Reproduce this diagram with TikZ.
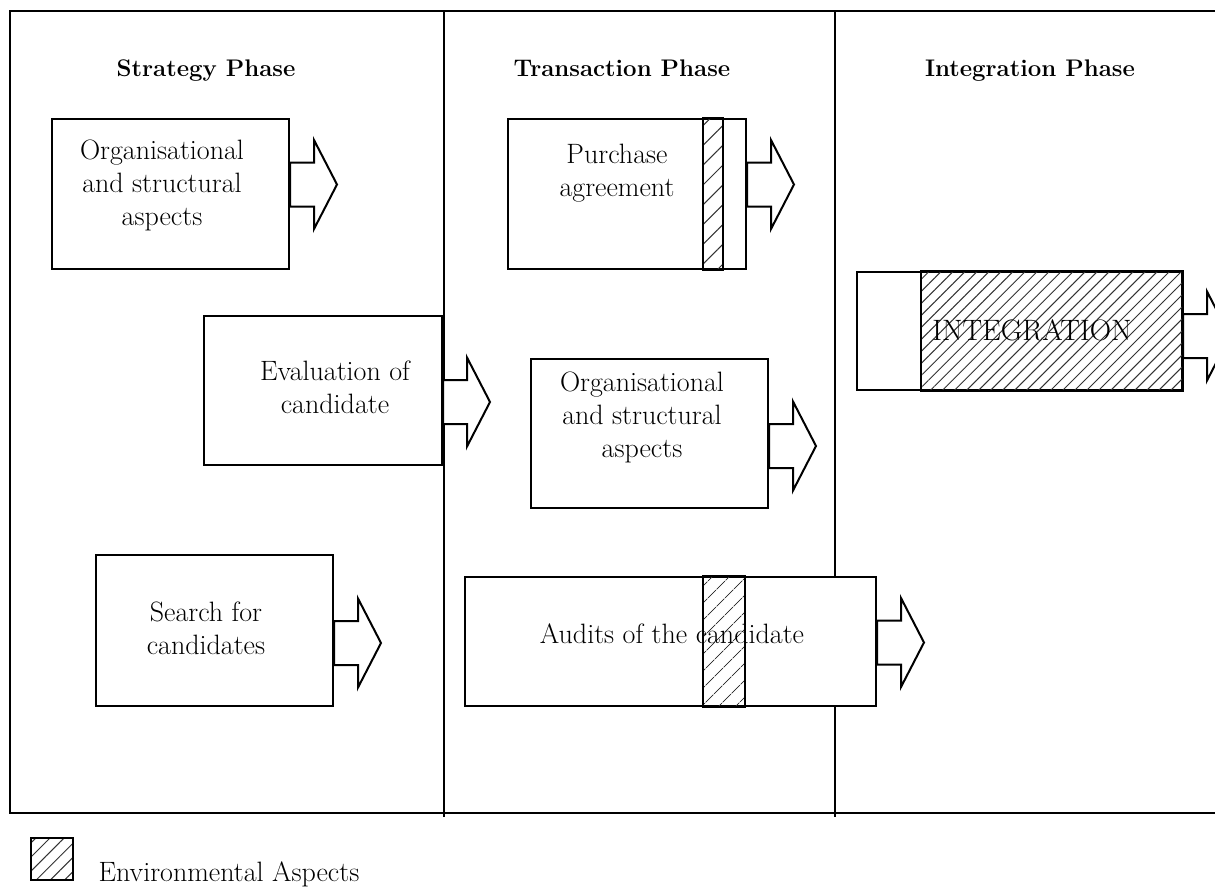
\documentclass[tikz,border=0pt]{standalone}
\usepackage{fontspec}
\usetikzlibrary{patterns.meta, positioning}

\begin{document}
\begin{tikzpicture}[x=1pt,y=-1pt,
  outline/.style={line width=2pt},
  box/.style 2 args={draw, outline, fill=white, minimum width=#1, minimum height=#2, inner sep=0pt},
  hatch/.style={pattern={Lines[angle=45,distance=#1,line width=1pt]}, pattern color=black!80},
  hatch/.default=9pt,
  phase/.style={anchor=base, font=\fontsize{24}{30}\selectfont\bfseries},
  txt/.style={align=center, font=\fontsize{28}{33}\selectfont},
  fatarrow/.pic={\draw[outline, fill=white] (0,22) -- (24,22) -- (24,44.5) -- (47,0) -- (24,-44.5) -- (24,-22) -- (0,-22) -- cycle;}]
\path[use as bounding box, fill=white] (0,0) rectangle (1215,888);

% frame and phase columns
\draw[outline] (1230,11) -| (10,813) -- (1230,813);
\draw[outline] (444,11) -- (444,817);
\draw[outline] (835,11) -- (835,817);
\node[phase] (strat) at (206,77) {Strategy Phase};
\node[phase] (trans) at (622,77) {Transaction Phase};
\node[phase] (integ) at (1030,77) {Integration Phase};

% strategy phase
\node[box={237pt}{150pt}] (orgS) at (170.5,194) {};
\node[txt] (orgStxt) at (162,185.5) {Organisational\\and structural\\aspects};
\pic at ([yshift=9.5pt]orgS.east) {fatarrow};
\node[box={238pt}{149pt}] (eval) at (323,390.5) {};
\node[txt] (evaltxt) at (335,387.5) {Evaluation of\\candidate};
\pic at ([yshift=-11.5pt]eval.east) {fatarrow};
\node[box={237pt}{151pt}] (search) at (214.5,630.5) {};
\node[txt] (searchtxt) at (206,628) {Search for\\candidates};
\pic at ([yshift=-12.5pt]search.east) {fatarrow};

% transaction phase
\node[box={238pt}{150pt}] (purch) at (627,194) {};
\draw[outline, hatch=14pt] ([xshift=196pt]purch.north west) rectangle ([xshift=216pt]purch.south west);
\node[txt] (purchtxt) at (617,173.5) {Purchase\\agreement};
\pic at ([yshift=9.5pt]purch.east) {fatarrow};
\node[box={237pt}{149pt}] (orgT) at (649.5,433.5) {};
\node[txt] (orgTtxt) at (642,417) {Organisational\\and structural\\aspects};
\pic at ([yshift=-12.5pt]orgT.east) {fatarrow};
\node[box={411pt}{129pt}] (audit) at (670.5,641.5) {};
\draw[outline, hatch=13pt] ([xshift=239pt]audit.north west) rectangle ([xshift=281pt]audit.south west);
\node[txt] (audittxt) at (672,634) {Audits of the candidate};
\pic at ([yshift=-1pt]audit.east) {fatarrow};

% integration phase
\node[box={325pt}{118pt}] (intbox) at (1019.5,331) {};
\draw[outline, hatch=8.5pt] ([xshift=65pt]intbox.north west) rectangle (intbox.south east);
\node[txt, font=\fontsize{29.5}{33}\selectfont] (inttxt) at (1032,330) {INTEGRATION};
\pic at ([yshift=-5pt]intbox.east) {fatarrow};

% legend
\node[draw, outline, hatch=10pt, minimum size=42pt, inner sep=0pt] (legend) at (52,859) {};
\node[txt, anchor=west] (legendtxt) at (95,874) {Environmental Aspects};
\end{tikzpicture}
\end{document}
